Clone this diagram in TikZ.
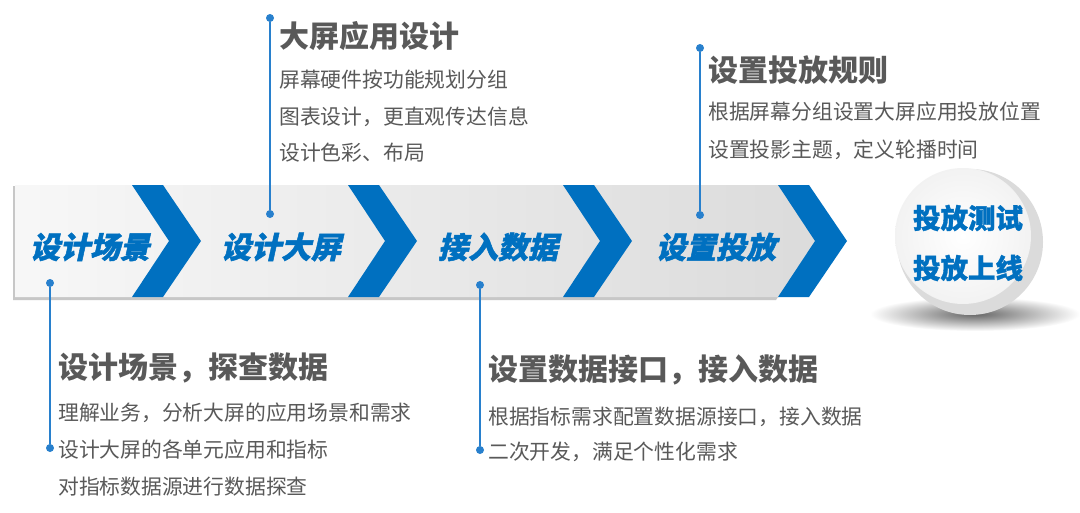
\documentclass[tikz,border=0pt]{standalone}
\usepackage{fontspec}
\newfontfamily\cjk{Noto Sans CJK SC}
\newfontfamily\cjkslant{Noto Sans CJK SC}[FakeSlant=0.22, FakeBold=1.6]
\newfontfamily\cjkheavy{Noto Sans CJK SC}[FakeBold=1.2]
\usetikzlibrary{calc}
\definecolor{bblue}{RGB}{0,112,192}
\definecolor{lblue}{RGB}{40,128,205}
\definecolor{tgray}{RGB}{89,89,89}
\tikzset{
  stagelabel/.style={font=\cjkslant\bfseries\fontsize{30}{30}\selectfont, text=bblue, inner sep=0pt},
  circlabel/.style={font=\cjkheavy\bfseries\fontsize{27.5}{27.5}\selectfont, text=bblue, inner sep=0pt},
  titletext/.style={font=\cjk\bfseries\fontsize{30}{30}\selectfont, text=tgray, inner sep=0pt, anchor=west},
  bodytext/.style={font=\cjk\fontsize{20.8}{20.8}\selectfont, text=tgray, inner sep=0pt, anchor=west},
  dotnode/.style={circle, fill=lblue, minimum size=8pt, inner sep=0pt},
  callline/.style={draw=lblue, line width=2pt},
  chevron/.style={fill=bblue, draw=none}
}
\begin{document}
\begin{tikzpicture}[x=1pt,y=-1pt]
\useasboundingbox (0,0) rectangle (1080,512);
\fill[white] (0,0) rectangle (1080,512);
% band shadow
\fill[black!22] (13,186) -- (776,186) -- (815,243) -- (776,300) -- (13,300) -- cycle;
% band
\shade[left color=white!97!black, right color=white!86!black] (15,185) -- (778,185) -- (817,241) -- (778,297) -- (15,297) -- cycle;
% chevrons
\foreach \cx in {132,348,563,778}{
  \fill[chevron] (\cx,185) -- (\cx+31,185) -- (\cx+69,241) -- (\cx+31,297) -- (\cx,297) -- (\cx+37,241) -- cycle;
}
% stage labels
\node[stagelabel] (s1) at (90,247) {设计场景};
\node[stagelabel] (s2) at (281,247) {设计大屏};
\node[stagelabel] (s3) at (498,247) {接入数据};
\node[stagelabel] (s4) at (716,247) {设置投放};
% circle shadow
\shade[inner color=black!60, outer color=white] (975,314) ellipse (105 and 17);
% circle
\fill[white!86!black] (970,242) circle (73);
\shade[inner color=white, outer color=white!95!black] (963,236) circle (68);
\node[circlabel] (c1) at (968,218) {投放测试};
\node[circlabel] (c2) at (968,268) {投放上线};
% callout top-left
\node[dotnode] (d1a) at (270,18) {};
\node[dotnode] (d1b) at (270,214) {};
\draw[callline] (d1a) -- (d1b);
\node[titletext] (t1) at (279,36) {大屏应用设计};
\node[bodytext] (t1a) at (279,80) {屏幕硬件按功能规划分组};
\node[bodytext] (t1b) at (279,117) {图表设计，更直观传达信息};
\node[bodytext] (t1c) at (279,153) {设计色彩、布局};
% callout top-right
\node[dotnode] (d2a) at (700,48) {};
\node[dotnode] (d2b) at (700,215) {};
\draw[callline] (d2a) -- (d2b);
\node[titletext] (t2) at (708,70) {设置投放规则};
\node[bodytext] (t2a) at (708,112) {根据屏幕分组设置大屏应用投放位置};
\node[bodytext] (t2b) at (708,150) {设置投影主题，定义轮播时间};
% callout bottom-left
\node[dotnode] (d3a) at (50,283) {};
\node[dotnode] (d3b) at (50,448) {};
\draw[callline] (d3a) -- (d3b);
\node[titletext] (t3) at (58,368) {设计场景，探查数据};
\node[bodytext] (t3a) at (58,413) {理解业务，分析大屏的应用场景和需求};
\node[bodytext] (t3b) at (58,450) {设计大屏的各单元应用和指标};
\node[bodytext] (t3c) at (58,487) {对指标数据源进行数据探查};
% callout bottom-right
\node[dotnode] (d4a) at (480,285) {};
\node[dotnode] (d4b) at (480,450) {};
\draw[callline] (d4a) -- (d4b);
\node[titletext] (t4) at (488,370) {设置数据接口，接入数据};
\node[bodytext] (t4a) at (488,417) {根据指标需求配置数据源接口，接入数据};
\node[bodytext] (t4b) at (488,452) {二次开发，满足个性化需求};
\end{tikzpicture}
\end{document}
